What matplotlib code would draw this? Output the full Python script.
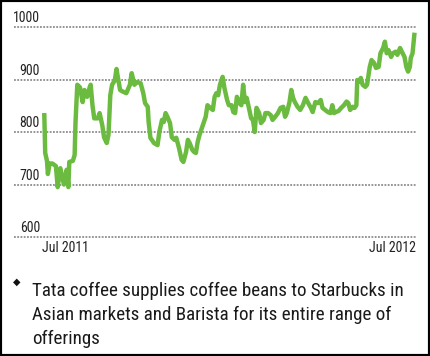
import datetime
import matplotlib
matplotlib.use("Agg")
import matplotlib.pyplot as plt
import matplotlib.transforms as mtransforms
from matplotlib import font_manager
from matplotlib.patches import Rectangle

# pick a narrow sans if one is around, otherwise plain Liberation Sans
fonts = font_manager.fontManager.ttflist
narrow = None
for f in fonts:
    if f.name in ('Liberation Sans Narrow', 'Arial Narrow', 'Roboto Condensed'):
        narrow = (f.name, 'normal')
        break
if narrow is None:
    for f in fonts:
        if f.name == 'DejaVu Sans' and f.stretch in ('condensed', 'semi-condensed', 600, 700, 500) \
                and f.weight in ('normal', 400, 'book') and f.style == 'normal':
            narrow = ('DejaVu Sans', 'condensed')
            break
if narrow is None:
    narrow = ('Liberation Sans', 'normal')
plt.rcParams['font.family'] = [narrow[0], 'DejaVu Sans']
plt.rcParams['font.stretch'] = narrow[1]

# Share price (days counted from 7 Jun 2011)
start = datetime.date(2011, 6, 7)
days = [0, 1, 3, 4, 6, 9, 13, 15, 18, 22, 25, 27, 28, 32, 34, 35, 37, 40, 43, 45,
        48, 51, 52, 54, 56, 60, 62, 65, 67, 70, 72, 74, 76, 79, 81, 82, 85, 88, 92, 96,
        98, 101, 104, 108, 111, 113, 116, 117, 119, 123, 127, 129, 132, 134, 136, 138, 141, 143, 146, 148,
        151, 154, 156, 159, 161, 163, 166, 168, 170, 172, 174, 176, 179, 181, 183, 186, 189, 191, 193, 195,
        197, 200, 202, 205, 207, 210, 212, 214, 216, 219, 221, 223, 225, 227, 230, 232, 234, 236, 238, 241,
        243, 246, 248, 251, 254, 256, 259, 262, 265, 268, 270, 272, 275, 277, 279, 281, 284, 287, 290, 293,
        296, 299, 301, 304, 307, 310, 312, 315, 318, 321, 323, 325, 327, 330, 333, 336, 339, 341, 343, 346,
        348, 350, 351, 353, 355, 357, 360, 362, 365, 367, 370, 372, 375, 377, 380, 382, 384, 386, 389, 391,
        394, 396, 399, 401, 404, 406, 408, 410, 411, 413, 415]
price = [832, 760, 745, 720, 740, 740, 735, 695, 731, 700, 728, 695, 743, 745, 756, 819, 890, 885, 857, 880,
         867, 886, 890, 851, 826, 826, 836, 813, 790, 779, 795, 870, 890, 898, 920, 909, 880, 877, 874, 890,
         912, 890, 895, 893, 874, 855, 848, 819, 789, 779, 775, 800, 823, 819, 836, 829, 817, 790, 785, 789,
         770, 747, 743, 762, 785, 779, 766, 762, 760, 781, 794, 804, 819, 829, 851, 846, 842, 867, 874, 870,
         890, 905, 884, 861, 851, 851, 838, 836, 867, 855, 851, 890, 857, 865, 842, 826, 823, 800, 846, 836,
         817, 823, 836, 836, 832, 823, 829, 836, 846, 848, 829, 836, 857, 880, 865, 857, 848, 842, 851, 865,
         855, 846, 838, 857, 855, 861, 846, 842, 838, 836, 851, 836, 838, 840, 846, 851, 858, 855, 842, 848,
         846, 851, 899, 896, 903, 890, 886, 890, 924, 937, 931, 922, 924, 950, 960, 972, 950, 956, 943, 950,
         953, 947, 960, 953, 943, 924, 915, 924, 941, 950, 985]
dates = [start + datetime.timedelta(days=d) for d in days]

y_ticks = [600, 700, 800, 900, 1000]
x_ticks = [datetime.date(2011, 7, 1), datetime.date(2012, 7, 1)]
x_labels = ['Jul 2011', 'Jul 2012']
note = ['Tata coffee supplies coffee beans to Starbucks in',
        'Asian markets and Barista for its entire range of',
        'offerings']

W, H = 430, 356
fig = plt.figure(figsize=(W / 100, H / 100), dpi=100)
renderer = fig.canvas.get_renderer()


def fit_size(txt, width_px, size0=12.0):
    # font size that makes txt about width_px wide
    t = fig.text(0, 0, txt, fontsize=size0)
    w = t.get_window_extent(renderer).width
    t.remove()
    return size0 * width_px / w


label_fs = min(fit_size('1000', 27), 12)
note_fs = min(fit_size(note[0], 372), 15.5)

ax = fig.add_axes([14 / W, 1 - 237 / H, 403 / W, 210 / H])

ax.plot(dates, price, color='#6cbb41', lw=3.2, solid_joinstyle='round', zorder=3)

ax.set_ylim(600, 1000)
ax.set_xlim(start - datetime.timedelta(days=34.5), start + datetime.timedelta(days=418))
for v in y_ticks:
    ax.axhline(v, color='#8c8c8c', lw=1.3, ls=(0, (1, 0.8)), clip_on=False, zorder=1)

# value labels sit just above their gridline
trans = mtransforms.blended_transform_factory(ax.transAxes, ax.transData)
for v in y_ticks:
    ax.text(26 / 403, v + 3, str(v), transform=trans, ha='right', va='bottom',
            fontsize=label_fs, color='#222222')

ax.set_yticks([])
ax.set_xticks(x_ticks)
ax.set_xticklabels(x_labels, fontsize=label_fs, color='#222222')
ax.tick_params(axis='x', length=0, pad=3)
for s in ax.spines.values():
    s.set_visible(False)

# bullet note
fig.text(16.5 / W, 1 - 282 / H, '\u25c6', family='DejaVu Sans', fontsize=7,
         ha='center', va='center', color='#111111')
for i, line in enumerate(note):
    fig.text(32 / W, 1 - (296 + i * 24) / H, line, fontsize=note_fs, ha='left',
             va='baseline', color='#1a1a1a')

fig.patches.append(Rectangle((0, 0), 1, 1, transform=fig.transFigure, fill=False,
                             lw=3, edgecolor='black'))

fig.savefig('out.png', dpi=100)
